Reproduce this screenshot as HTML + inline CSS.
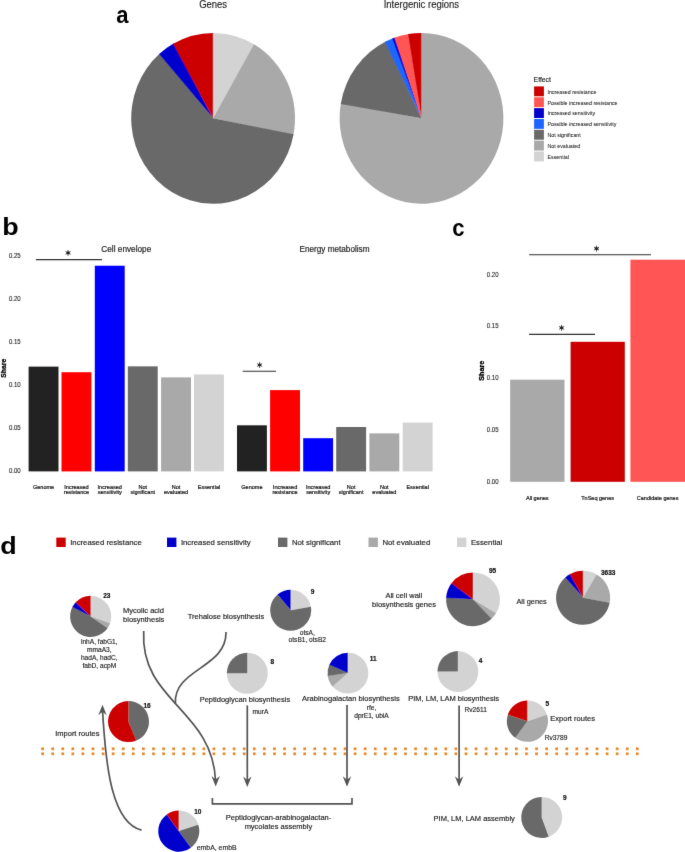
<!DOCTYPE html>
<html><head><meta charset="utf-8"><style>
html,body{margin:0;padding:0;background:#fff;}
body{width:685px;height:852px;overflow:hidden;}
svg{display:block;font-family:"Liberation Sans",sans-serif;}
</style></head><body>
<svg width="685" height="852" viewBox="0 0 685 852">
<defs><filter id="soft" x="0" y="0" width="685" height="852" filterUnits="userSpaceOnUse"><feConvolveMatrix order="3" kernelMatrix="0.00524 0.06192 0.00524 0.06192 0.73137 0.06192 0.00524 0.06192 0.00524" divisor="1" edgeMode="duplicate" preserveAlpha="false"/></filter></defs>
<rect width="685" height="852" fill="#fff"/>
<g filter="url(#soft)">
<text transform="translate(116.2,22.6) scale(0.92,1)" font-size="24" font-weight="bold">a</text>
<text transform="translate(213.1,7.75) scale(1,1.1)" font-size="9.5" text-anchor="middle" fill="#1a1a1a" stroke="#1a1a1a" stroke-width="0.12">Genes</text>
<text transform="translate(421.4,7.65) scale(1,1.1)" font-size="9.5" text-anchor="middle" fill="#1a1a1a" stroke="#1a1a1a" stroke-width="0.12">Intergenic regions</text>
<path d="M213.10,118.30L213.10,32.90A81.9,85.4 0 0 1 254.79,44.79Z" fill="#D3D3D3"/>
<path d="M213.10,118.30L254.05,44.34A81.9,85.4 0 0 1 293.41,135.03Z" fill="#A9A9A9"/>
<path d="M213.10,118.30L293.58,134.16A81.9,85.4 0 1 1 159.80,53.46Z" fill="#696969"/>
<path d="M213.10,118.30L159.15,54.04A81.9,85.4 0 0 1 173.90,43.32Z" fill="#0000CC"/>
<path d="M213.10,118.30L173.14,43.75A81.9,85.4 0 0 1 213.10,32.90Z" fill="#CC0000"/>
<path d="M421.50,118.30L421.50,32.90A81.9,85.4 0 1 1 340.92,103.03Z" fill="#A9A9A9"/>
<path d="M421.50,118.30L340.77,103.91A81.9,85.4 0 0 1 385.73,41.48Z" fill="#696969"/>
<path d="M421.50,118.30L384.96,41.87A81.9,85.4 0 0 1 393.09,38.20Z" fill="#1F66FF"/>
<path d="M421.50,118.30L392.28,38.52A81.9,85.4 0 0 1 395.24,37.41Z" fill="#0000CC"/>
<path d="M421.50,118.30L394.43,37.70A81.9,85.4 0 0 1 408.97,33.91Z" fill="#FF5555"/>
<path d="M421.50,118.30L408.12,34.05A81.9,85.4 0 0 1 421.50,32.90Z" fill="#CC0000"/>
<text x="533.6" y="81.6" font-size="6.8" text-anchor="start" font-weight="normal" fill="#1a1a1a" stroke="#1a1a1a" stroke-width="0.136" >Effect</text>
<rect x="534.1" y="86.40" width="9.8" height="9.9" fill="#CC0000"/>
<text transform="translate(547.5,93.75) scale(1,1.15)" font-size="5.3" fill="#1a1a1a" stroke="#1a1a1a" stroke-width="0.05">Increased resistance</text>
<rect x="534.1" y="97.25" width="9.8" height="9.9" fill="#FF5555"/>
<text transform="translate(547.5,104.60) scale(1,1.15)" font-size="5.3" fill="#1a1a1a" stroke="#1a1a1a" stroke-width="0.05">Possible increased resistance</text>
<rect x="534.1" y="108.10" width="9.8" height="9.9" fill="#0000CC"/>
<text transform="translate(547.5,115.45) scale(1,1.15)" font-size="5.3" fill="#1a1a1a" stroke="#1a1a1a" stroke-width="0.05">Increased sensitivity</text>
<rect x="534.1" y="118.95" width="9.8" height="9.9" fill="#1F66FF"/>
<text transform="translate(547.5,126.30) scale(1,1.15)" font-size="5.3" fill="#1a1a1a" stroke="#1a1a1a" stroke-width="0.05">Possible increased sensitivity</text>
<rect x="534.1" y="129.80" width="9.8" height="9.9" fill="#696969"/>
<text transform="translate(547.5,137.15) scale(1,1.15)" font-size="5.3" fill="#1a1a1a" stroke="#1a1a1a" stroke-width="0.05">Not significant</text>
<rect x="534.1" y="140.65" width="9.8" height="9.9" fill="#A9A9A9"/>
<text transform="translate(547.5,148.00) scale(1,1.15)" font-size="5.3" fill="#1a1a1a" stroke="#1a1a1a" stroke-width="0.05">Not evaluated</text>
<rect x="534.1" y="151.50" width="9.8" height="9.9" fill="#D3D3D3"/>
<text transform="translate(547.5,158.85) scale(1,1.15)" font-size="5.3" fill="#1a1a1a" stroke="#1a1a1a" stroke-width="0.05">Essential</text>
<text transform="translate(2.3,234.5) scale(1.12,1)" font-size="24" font-weight="bold">b</text>
<text transform="translate(20.60,473.42) scale(0.87,1)" font-size="6.9" text-anchor="end" fill="#222" stroke="#222" stroke-width="0.1">0.00</text>
<text transform="translate(20.60,430.30) scale(0.87,1)" font-size="6.9" text-anchor="end" fill="#222" stroke="#222" stroke-width="0.1">0.05</text>
<text transform="translate(20.60,387.18) scale(0.87,1)" font-size="6.9" text-anchor="end" fill="#222" stroke="#222" stroke-width="0.1">0.10</text>
<text transform="translate(20.60,344.06) scale(0.87,1)" font-size="6.9" text-anchor="end" fill="#222" stroke="#222" stroke-width="0.1">0.15</text>
<text transform="translate(20.60,300.94) scale(0.87,1)" font-size="6.9" text-anchor="end" fill="#222" stroke="#222" stroke-width="0.1">0.20</text>
<text transform="translate(20.60,257.82) scale(0.87,1)" font-size="6.9" text-anchor="end" fill="#222" stroke="#222" stroke-width="0.1">0.25</text>
<text transform="translate(5.9,368.2) rotate(-90) scale(0.93,1)" font-size="7.4" font-weight="bold" text-anchor="middle" fill="#000" stroke="#000" stroke-width="0.3">Share</text>
<text x="101.3" y="252.0" font-size="8.25" text-anchor="start" font-weight="normal" fill="#1a1a1a" stroke="#1a1a1a" stroke-width="0.165" >Cell envelope</text>
<text x="334.5" y="252.2" font-size="8.2" text-anchor="middle" font-weight="normal" fill="#1a1a1a" stroke="#1a1a1a" stroke-width="0.164" >Energy metabolism</text>
<rect x="28.6" y="366.61839999999995" width="29.9" height="104.78" fill="#242424"/>
<rect x="61.5" y="372.224" width="29.9" height="99.18" fill="#FF0000"/>
<rect x="94.8" y="265.7176" width="29.9" height="205.68" fill="#0000FF"/>
<rect x="127.8" y="366.35967999999997" width="29.9" height="105.04" fill="#696969"/>
<rect x="161.1" y="377.3984" width="29.9" height="94.00" fill="#A9A9A9"/>
<rect x="194.0" y="374.46623999999997" width="29.9" height="96.93" fill="#D3D3D3"/>
<rect x="237.0" y="425.3" width="29.9" height="46.10" fill="#242424"/>
<rect x="270.1" y="390.1" width="29.9" height="81.30" fill="#FF0000"/>
<rect x="303.2" y="438.2" width="29.9" height="33.20" fill="#0000FF"/>
<rect x="336.2" y="427.0" width="29.9" height="44.40" fill="#696969"/>
<rect x="369.4" y="433.4" width="29.9" height="38.00" fill="#A9A9A9"/>
<rect x="402.7" y="422.6" width="29.9" height="48.80" fill="#D3D3D3"/>
<text x="43.55" y="488.60" font-size="5.55" text-anchor="middle" font-weight="normal" fill="#111" stroke="#111" stroke-width="0.2" >Genome</text>
<text x="76.45" y="488.60" font-size="5.55" text-anchor="middle" font-weight="normal" fill="#111" stroke="#111" stroke-width="0.2" >Increased</text>
<text x="76.45" y="494.00" font-size="5.55" text-anchor="middle" font-weight="normal" fill="#111" stroke="#111" stroke-width="0.2" >resistance</text>
<text x="109.75" y="488.60" font-size="5.55" text-anchor="middle" font-weight="normal" fill="#111" stroke="#111" stroke-width="0.2" >Increased</text>
<text x="109.75" y="494.00" font-size="5.55" text-anchor="middle" font-weight="normal" fill="#111" stroke="#111" stroke-width="0.2" >sensitivity</text>
<text x="142.75" y="488.60" font-size="5.55" text-anchor="middle" font-weight="normal" fill="#111" stroke="#111" stroke-width="0.2" >Not</text>
<text x="142.75" y="494.00" font-size="5.55" text-anchor="middle" font-weight="normal" fill="#111" stroke="#111" stroke-width="0.2" >significant</text>
<text x="176.05" y="488.60" font-size="5.55" text-anchor="middle" font-weight="normal" fill="#111" stroke="#111" stroke-width="0.2" >Not</text>
<text x="176.05" y="494.00" font-size="5.55" text-anchor="middle" font-weight="normal" fill="#111" stroke="#111" stroke-width="0.2" >evaluated</text>
<text x="208.95" y="488.60" font-size="5.55" text-anchor="middle" font-weight="normal" fill="#111" stroke="#111" stroke-width="0.2" >Essential</text>
<text x="251.95" y="488.60" font-size="5.55" text-anchor="middle" font-weight="normal" fill="#111" stroke="#111" stroke-width="0.2" >Genome</text>
<text x="285.05" y="488.60" font-size="5.55" text-anchor="middle" font-weight="normal" fill="#111" stroke="#111" stroke-width="0.2" >Increased</text>
<text x="285.05" y="494.00" font-size="5.55" text-anchor="middle" font-weight="normal" fill="#111" stroke="#111" stroke-width="0.2" >resistance</text>
<text x="318.15" y="488.60" font-size="5.55" text-anchor="middle" font-weight="normal" fill="#111" stroke="#111" stroke-width="0.2" >Increased</text>
<text x="318.15" y="494.00" font-size="5.55" text-anchor="middle" font-weight="normal" fill="#111" stroke="#111" stroke-width="0.2" >sensitivity</text>
<text x="351.15" y="488.60" font-size="5.55" text-anchor="middle" font-weight="normal" fill="#111" stroke="#111" stroke-width="0.2" >Not</text>
<text x="351.15" y="494.00" font-size="5.55" text-anchor="middle" font-weight="normal" fill="#111" stroke="#111" stroke-width="0.2" >significant</text>
<text x="384.35" y="488.60" font-size="5.55" text-anchor="middle" font-weight="normal" fill="#111" stroke="#111" stroke-width="0.2" >Not</text>
<text x="384.35" y="494.00" font-size="5.55" text-anchor="middle" font-weight="normal" fill="#111" stroke="#111" stroke-width="0.2" >evaluated</text>
<text x="417.65" y="488.60" font-size="5.55" text-anchor="middle" font-weight="normal" fill="#111" stroke="#111" stroke-width="0.2" >Essential</text>
<line x1="35.9" y1="259.6" x2="102" y2="259.6" stroke="#333" stroke-width="1.1"/>
<path d="M68.06,250.00L68.06,255.80M65.55,251.45L70.57,254.35M70.57,251.45L65.55,254.35" stroke="#222" stroke-width="0.8" fill="none"/>
<ellipse cx="68.06" cy="252.9" rx="1.75" ry="1.3" fill="#222"/>
<line x1="242.7" y1="371.2" x2="276.0" y2="371.2" stroke="#333" stroke-width="1.1"/>
<path d="M259.60,362.10L259.60,367.90M257.09,363.55L262.11,366.45M262.11,363.55L257.09,366.45" stroke="#222" stroke-width="0.8" fill="none"/>
<ellipse cx="259.6" cy="365.0" rx="1.75" ry="1.3" fill="#222"/>
<text transform="translate(452.3,236) scale(0.92,1)" font-size="24" font-weight="bold">c</text>
<text transform="translate(498.50,483.82) scale(0.87,1)" font-size="6.9" text-anchor="end" fill="#222" stroke="#222" stroke-width="0.1">0.00</text>
<text transform="translate(498.50,432.02) scale(0.87,1)" font-size="6.9" text-anchor="end" fill="#222" stroke="#222" stroke-width="0.1">0.05</text>
<text transform="translate(498.50,380.22) scale(0.87,1)" font-size="6.9" text-anchor="end" fill="#222" stroke="#222" stroke-width="0.1">0.10</text>
<text transform="translate(498.50,328.42) scale(0.87,1)" font-size="6.9" text-anchor="end" fill="#222" stroke="#222" stroke-width="0.1">0.15</text>
<text transform="translate(498.50,276.62) scale(0.87,1)" font-size="6.9" text-anchor="end" fill="#222" stroke="#222" stroke-width="0.1">0.20</text>
<text transform="translate(484.2,370.7) rotate(-90) scale(0.91,1)" font-size="7.9" font-weight="bold" text-anchor="middle" fill="#000" stroke="#000" stroke-width="0.3">Share</text>
<rect x="510.2" y="379.7" width="54.3" height="102.10" fill="#A9A9A9"/>
<rect x="570.6" y="341.8" width="54.2" height="140.00" fill="#CC0000"/>
<rect x="630.4" y="259.7" width="54.6" height="222.10" fill="#FF5555"/>
<text x="537.3" y="499.9" font-size="5.5" text-anchor="middle" font-weight="normal" fill="#111" stroke="#111" stroke-width="0.2" >All genes</text>
<text x="597.6" y="499.9" font-size="5.5" text-anchor="middle" font-weight="normal" fill="#111" stroke="#111" stroke-width="0.2" >TnSeq genes</text>
<text x="657.6" y="499.9" font-size="5.5" text-anchor="middle" font-weight="normal" fill="#111" stroke="#111" stroke-width="0.2" >Candidate genes</text>
<line x1="529.1" y1="254.8" x2="651" y2="254.8" stroke="#333" stroke-width="1.1"/>
<path d="M596.50,245.70L596.50,251.50M593.99,247.15L599.01,250.05M599.01,247.15L593.99,250.05" stroke="#222" stroke-width="0.8" fill="none"/>
<ellipse cx="596.5" cy="248.6" rx="1.75" ry="1.3" fill="#222"/>
<line x1="529.1" y1="334.4" x2="595" y2="334.4" stroke="#333" stroke-width="1.1"/>
<path d="M561.60,325.00L561.60,330.80M559.09,326.45L564.11,329.35M564.11,326.45L559.09,329.35" stroke="#222" stroke-width="0.8" fill="none"/>
<ellipse cx="561.6" cy="327.9" rx="1.75" ry="1.3" fill="#222"/>
<text transform="translate(0.2,553.6) scale(1.12,1)" font-size="24" font-weight="bold">d</text>
<rect x="56.3" y="537.6" width="9.4" height="9.4" fill="#CC0000"/>
<text x="70.2" y="545.3" font-size="7.75" text-anchor="start" font-weight="normal" fill="#1a1a1a" stroke="#1a1a1a" stroke-width="0.155" >Increased resistance</text>
<rect x="167.0" y="537.6" width="9.4" height="9.4" fill="#0000CC"/>
<text x="180.9" y="545.3" font-size="7.75" text-anchor="start" font-weight="normal" fill="#1a1a1a" stroke="#1a1a1a" stroke-width="0.155" >Increased sensitivity</text>
<rect x="278.0" y="537.6" width="9.4" height="9.4" fill="#696969"/>
<text x="291.9" y="545.3" font-size="7.75" text-anchor="start" font-weight="normal" fill="#1a1a1a" stroke="#1a1a1a" stroke-width="0.155" >Not significant</text>
<rect x="368.5" y="537.6" width="9.4" height="9.4" fill="#A9A9A9"/>
<text x="382.4" y="545.3" font-size="7.75" text-anchor="start" font-weight="normal" fill="#1a1a1a" stroke="#1a1a1a" stroke-width="0.155" >Not evaluated</text>
<rect x="457.0" y="537.6" width="9.4" height="9.4" fill="#D3D3D3"/>
<text x="470.9" y="545.3" font-size="7.75" text-anchor="start" font-weight="normal" fill="#1a1a1a" stroke="#1a1a1a" stroke-width="0.155" >Essential</text>
<rect x="41.25" y="747.45" width="2.7" height="2.7" fill="#E6892D"/>
<rect x="41.25" y="752.45" width="2.7" height="2.7" fill="#E6892D"/>
<rect x="51.33" y="747.45" width="2.7" height="2.7" fill="#E6892D"/>
<rect x="51.33" y="752.45" width="2.7" height="2.7" fill="#E6892D"/>
<rect x="61.41" y="747.45" width="2.7" height="2.7" fill="#E6892D"/>
<rect x="61.41" y="752.45" width="2.7" height="2.7" fill="#E6892D"/>
<rect x="71.49" y="747.45" width="2.7" height="2.7" fill="#E6892D"/>
<rect x="71.49" y="752.45" width="2.7" height="2.7" fill="#E6892D"/>
<rect x="81.57" y="747.45" width="2.7" height="2.7" fill="#E6892D"/>
<rect x="81.57" y="752.45" width="2.7" height="2.7" fill="#E6892D"/>
<rect x="91.65" y="747.45" width="2.7" height="2.7" fill="#E6892D"/>
<rect x="91.65" y="752.45" width="2.7" height="2.7" fill="#E6892D"/>
<rect x="101.73" y="747.45" width="2.7" height="2.7" fill="#E6892D"/>
<rect x="101.73" y="752.45" width="2.7" height="2.7" fill="#E6892D"/>
<rect x="111.81" y="747.45" width="2.7" height="2.7" fill="#E6892D"/>
<rect x="111.81" y="752.45" width="2.7" height="2.7" fill="#E6892D"/>
<rect x="121.89" y="747.45" width="2.7" height="2.7" fill="#E6892D"/>
<rect x="121.89" y="752.45" width="2.7" height="2.7" fill="#E6892D"/>
<rect x="131.97" y="747.45" width="2.7" height="2.7" fill="#E6892D"/>
<rect x="131.97" y="752.45" width="2.7" height="2.7" fill="#E6892D"/>
<rect x="142.05" y="747.45" width="2.7" height="2.7" fill="#E6892D"/>
<rect x="142.05" y="752.45" width="2.7" height="2.7" fill="#E6892D"/>
<rect x="152.13" y="747.45" width="2.7" height="2.7" fill="#E6892D"/>
<rect x="152.13" y="752.45" width="2.7" height="2.7" fill="#E6892D"/>
<rect x="162.21" y="747.45" width="2.7" height="2.7" fill="#E6892D"/>
<rect x="162.21" y="752.45" width="2.7" height="2.7" fill="#E6892D"/>
<rect x="172.29" y="747.45" width="2.7" height="2.7" fill="#E6892D"/>
<rect x="172.29" y="752.45" width="2.7" height="2.7" fill="#E6892D"/>
<rect x="182.37" y="747.45" width="2.7" height="2.7" fill="#E6892D"/>
<rect x="182.37" y="752.45" width="2.7" height="2.7" fill="#E6892D"/>
<rect x="192.45" y="747.45" width="2.7" height="2.7" fill="#E6892D"/>
<rect x="192.45" y="752.45" width="2.7" height="2.7" fill="#E6892D"/>
<rect x="202.53" y="747.45" width="2.7" height="2.7" fill="#E6892D"/>
<rect x="202.53" y="752.45" width="2.7" height="2.7" fill="#E6892D"/>
<rect x="212.61" y="747.45" width="2.7" height="2.7" fill="#E6892D"/>
<rect x="212.61" y="752.45" width="2.7" height="2.7" fill="#E6892D"/>
<rect x="222.69" y="747.45" width="2.7" height="2.7" fill="#E6892D"/>
<rect x="222.69" y="752.45" width="2.7" height="2.7" fill="#E6892D"/>
<rect x="232.77" y="747.45" width="2.7" height="2.7" fill="#E6892D"/>
<rect x="232.77" y="752.45" width="2.7" height="2.7" fill="#E6892D"/>
<rect x="242.85" y="747.45" width="2.7" height="2.7" fill="#E6892D"/>
<rect x="242.85" y="752.45" width="2.7" height="2.7" fill="#E6892D"/>
<rect x="252.93" y="747.45" width="2.7" height="2.7" fill="#E6892D"/>
<rect x="252.93" y="752.45" width="2.7" height="2.7" fill="#E6892D"/>
<rect x="263.01" y="747.45" width="2.7" height="2.7" fill="#E6892D"/>
<rect x="263.01" y="752.45" width="2.7" height="2.7" fill="#E6892D"/>
<rect x="273.09" y="747.45" width="2.7" height="2.7" fill="#E6892D"/>
<rect x="273.09" y="752.45" width="2.7" height="2.7" fill="#E6892D"/>
<rect x="283.17" y="747.45" width="2.7" height="2.7" fill="#E6892D"/>
<rect x="283.17" y="752.45" width="2.7" height="2.7" fill="#E6892D"/>
<rect x="293.25" y="747.45" width="2.7" height="2.7" fill="#E6892D"/>
<rect x="293.25" y="752.45" width="2.7" height="2.7" fill="#E6892D"/>
<rect x="303.33" y="747.45" width="2.7" height="2.7" fill="#E6892D"/>
<rect x="303.33" y="752.45" width="2.7" height="2.7" fill="#E6892D"/>
<rect x="313.41" y="747.45" width="2.7" height="2.7" fill="#E6892D"/>
<rect x="313.41" y="752.45" width="2.7" height="2.7" fill="#E6892D"/>
<rect x="323.49" y="747.45" width="2.7" height="2.7" fill="#E6892D"/>
<rect x="323.49" y="752.45" width="2.7" height="2.7" fill="#E6892D"/>
<rect x="333.57" y="747.45" width="2.7" height="2.7" fill="#E6892D"/>
<rect x="333.57" y="752.45" width="2.7" height="2.7" fill="#E6892D"/>
<rect x="343.65" y="747.45" width="2.7" height="2.7" fill="#E6892D"/>
<rect x="343.65" y="752.45" width="2.7" height="2.7" fill="#E6892D"/>
<rect x="353.73" y="747.45" width="2.7" height="2.7" fill="#E6892D"/>
<rect x="353.73" y="752.45" width="2.7" height="2.7" fill="#E6892D"/>
<rect x="363.81" y="747.45" width="2.7" height="2.7" fill="#E6892D"/>
<rect x="363.81" y="752.45" width="2.7" height="2.7" fill="#E6892D"/>
<rect x="373.89" y="747.45" width="2.7" height="2.7" fill="#E6892D"/>
<rect x="373.89" y="752.45" width="2.7" height="2.7" fill="#E6892D"/>
<rect x="383.97" y="747.45" width="2.7" height="2.7" fill="#E6892D"/>
<rect x="383.97" y="752.45" width="2.7" height="2.7" fill="#E6892D"/>
<rect x="394.05" y="747.45" width="2.7" height="2.7" fill="#E6892D"/>
<rect x="394.05" y="752.45" width="2.7" height="2.7" fill="#E6892D"/>
<rect x="404.13" y="747.45" width="2.7" height="2.7" fill="#E6892D"/>
<rect x="404.13" y="752.45" width="2.7" height="2.7" fill="#E6892D"/>
<rect x="414.21" y="747.45" width="2.7" height="2.7" fill="#E6892D"/>
<rect x="414.21" y="752.45" width="2.7" height="2.7" fill="#E6892D"/>
<rect x="424.29" y="747.45" width="2.7" height="2.7" fill="#E6892D"/>
<rect x="424.29" y="752.45" width="2.7" height="2.7" fill="#E6892D"/>
<rect x="434.37" y="747.45" width="2.7" height="2.7" fill="#E6892D"/>
<rect x="434.37" y="752.45" width="2.7" height="2.7" fill="#E6892D"/>
<rect x="444.45" y="747.45" width="2.7" height="2.7" fill="#E6892D"/>
<rect x="444.45" y="752.45" width="2.7" height="2.7" fill="#E6892D"/>
<rect x="454.53" y="747.45" width="2.7" height="2.7" fill="#E6892D"/>
<rect x="454.53" y="752.45" width="2.7" height="2.7" fill="#E6892D"/>
<rect x="464.61" y="747.45" width="2.7" height="2.7" fill="#E6892D"/>
<rect x="464.61" y="752.45" width="2.7" height="2.7" fill="#E6892D"/>
<rect x="474.69" y="747.45" width="2.7" height="2.7" fill="#E6892D"/>
<rect x="474.69" y="752.45" width="2.7" height="2.7" fill="#E6892D"/>
<rect x="484.77" y="747.45" width="2.7" height="2.7" fill="#E6892D"/>
<rect x="484.77" y="752.45" width="2.7" height="2.7" fill="#E6892D"/>
<rect x="494.85" y="747.45" width="2.7" height="2.7" fill="#E6892D"/>
<rect x="494.85" y="752.45" width="2.7" height="2.7" fill="#E6892D"/>
<rect x="504.93" y="747.45" width="2.7" height="2.7" fill="#E6892D"/>
<rect x="504.93" y="752.45" width="2.7" height="2.7" fill="#E6892D"/>
<rect x="515.01" y="747.45" width="2.7" height="2.7" fill="#E6892D"/>
<rect x="515.01" y="752.45" width="2.7" height="2.7" fill="#E6892D"/>
<rect x="525.09" y="747.45" width="2.7" height="2.7" fill="#E6892D"/>
<rect x="525.09" y="752.45" width="2.7" height="2.7" fill="#E6892D"/>
<rect x="535.17" y="747.45" width="2.7" height="2.7" fill="#E6892D"/>
<rect x="535.17" y="752.45" width="2.7" height="2.7" fill="#E6892D"/>
<rect x="545.25" y="747.45" width="2.7" height="2.7" fill="#E6892D"/>
<rect x="545.25" y="752.45" width="2.7" height="2.7" fill="#E6892D"/>
<rect x="555.33" y="747.45" width="2.7" height="2.7" fill="#E6892D"/>
<rect x="555.33" y="752.45" width="2.7" height="2.7" fill="#E6892D"/>
<rect x="565.41" y="747.45" width="2.7" height="2.7" fill="#E6892D"/>
<rect x="565.41" y="752.45" width="2.7" height="2.7" fill="#E6892D"/>
<rect x="575.49" y="747.45" width="2.7" height="2.7" fill="#E6892D"/>
<rect x="575.49" y="752.45" width="2.7" height="2.7" fill="#E6892D"/>
<rect x="585.57" y="747.45" width="2.7" height="2.7" fill="#E6892D"/>
<rect x="585.57" y="752.45" width="2.7" height="2.7" fill="#E6892D"/>
<rect x="595.65" y="747.45" width="2.7" height="2.7" fill="#E6892D"/>
<rect x="595.65" y="752.45" width="2.7" height="2.7" fill="#E6892D"/>
<rect x="605.73" y="747.45" width="2.7" height="2.7" fill="#E6892D"/>
<rect x="605.73" y="752.45" width="2.7" height="2.7" fill="#E6892D"/>
<rect x="615.81" y="747.45" width="2.7" height="2.7" fill="#E6892D"/>
<rect x="615.81" y="752.45" width="2.7" height="2.7" fill="#E6892D"/>
<rect x="625.89" y="747.45" width="2.7" height="2.7" fill="#E6892D"/>
<rect x="625.89" y="752.45" width="2.7" height="2.7" fill="#E6892D"/>
<rect x="635.97" y="747.45" width="2.7" height="2.7" fill="#E6892D"/>
<rect x="635.97" y="752.45" width="2.7" height="2.7" fill="#E6892D"/>
<g fill="none" stroke="#555555" stroke-width="1.7">
<path d="M143.7,631 C139.8,701.5 212.5,708.9 215.6,781"/>
<path d="M226,632 C226.8,668.2 173.3,668.7 175.4,703.5"/>
<path d="M247.3,705.4 V781"/>
<path d="M347,705 V781"/>
<path d="M459.1,705.4 V781"/>
<path d="M141.6,830.1 C110.4,822.7 105.4,760 102.5,710"/>
<path d="M212.4,797.9 V803.9 H352 V797.9"/>
</g>
<path d="M215.70,786.60L211.50,776.10L215.70,779.60L219.90,776.10Z" fill="#555555"/>
<path d="M247.30,787.00L243.10,776.50L247.30,780.00L251.50,776.50Z" fill="#555555"/>
<path d="M347.00,786.70L342.80,776.20L347.00,779.70L351.20,776.20Z" fill="#555555"/>
<path d="M459.10,786.70L454.90,776.20L459.10,779.70L463.30,776.20Z" fill="#555555"/>
<path d="M102.50,704.70L106.70,715.20L102.50,711.70L98.30,715.20Z" fill="#555555"/>
<path d="M90.70,616.40L90.70,595.80A20.6,20.6 0 0 1 110.03,623.51Z" fill="#D3D3D3"/>
<path d="M90.70,616.40L110.11,623.31A20.6,20.6 0 0 1 107.41,628.45Z" fill="#A9A9A9"/>
<path d="M90.70,616.40L107.53,628.27A20.6,20.6 0 0 1 72.51,606.73Z" fill="#696969"/>
<path d="M90.70,616.40L72.41,606.92A20.6,20.6 0 0 1 75.78,602.19Z" fill="#0000CC"/>
<path d="M90.70,616.40L75.63,602.35A20.6,20.6 0 0 1 90.70,595.80Z" fill="#CC0000"/>
<path d="M290.70,610.30L290.70,589.80A20.5,20.5 0 0 1 310.92,606.95Z" fill="#D3D3D3"/>
<path d="M290.70,610.30L310.89,606.74A20.5,20.5 0 1 1 277.69,594.46Z" fill="#696969"/>
<path d="M290.70,610.30L277.52,594.60A20.5,20.5 0 0 1 290.70,589.80Z" fill="#0000CC"/>
<path d="M247.30,673.30L247.30,652.80A20.5,20.5 0 1 1 226.80,673.09Z" fill="#D3D3D3"/>
<path d="M247.30,673.30L226.80,673.30A20.5,20.5 0 0 1 247.30,652.80Z" fill="#696969"/>
<path d="M347.90,673.10L347.90,652.70A20.4,20.4 0 1 1 332.34,686.29Z" fill="#D3D3D3"/>
<path d="M347.90,673.10L332.48,686.46A20.4,20.4 0 0 1 327.68,675.80Z" fill="#A9A9A9"/>
<path d="M347.90,673.10L327.71,676.01A20.4,20.4 0 0 1 329.43,664.45Z" fill="#696969"/>
<path d="M347.90,673.10L329.34,664.64A20.4,20.4 0 0 1 347.90,652.70Z" fill="#0000CC"/>
<path d="M473.00,599.30L473.00,572.40A26.9,26.9 0 0 1 495.84,613.51Z" fill="#D3D3D3"/>
<path d="M473.00,599.30L495.98,613.28A26.9,26.9 0 0 1 491.35,618.97Z" fill="#A9A9A9"/>
<path d="M473.00,599.30L491.55,618.78A26.9,26.9 0 0 1 446.15,597.70Z" fill="#696969"/>
<path d="M473.00,599.30L446.13,597.99A26.9,26.9 0 0 1 451.66,582.92Z" fill="#0000CC"/>
<path d="M473.00,599.30L451.49,583.15A26.9,26.9 0 0 1 473.00,572.40Z" fill="#CC0000"/>
<path d="M583.10,597.80L583.10,570.80A27.0,27.0 0 0 1 596.84,574.56Z" fill="#D3D3D3"/>
<path d="M583.10,597.80L596.60,574.42A27.0,27.0 0 0 1 609.58,603.09Z" fill="#A9A9A9"/>
<path d="M583.10,597.80L609.63,602.81A27.0,27.0 0 1 1 565.53,577.30Z" fill="#696969"/>
<path d="M583.10,597.80L565.32,577.48A27.0,27.0 0 0 1 570.18,574.09Z" fill="#0000CC"/>
<path d="M583.10,597.80L569.93,574.23A27.0,27.0 0 0 1 583.10,570.80Z" fill="#CC0000"/>
<path d="M457.90,671.50L457.90,651.10A20.4,20.4 0 1 1 437.50,671.29Z" fill="#D3D3D3"/>
<path d="M457.90,671.50L437.50,671.50A20.4,20.4 0 0 1 457.90,651.10Z" fill="#696969"/>
<path d="M128.50,721.60L128.50,701.10A20.5,20.5 0 0 1 136.15,740.62Z" fill="#696969"/>
<path d="M128.50,721.60L136.35,740.54A20.5,20.5 0 1 1 128.50,701.10Z" fill="#CC0000"/>
<path d="M527.40,721.20L527.40,700.60A20.6,20.6 0 0 1 547.06,715.04Z" fill="#D3D3D3"/>
<path d="M527.40,721.20L546.99,714.83A20.6,20.6 0 0 1 515.12,737.74Z" fill="#A9A9A9"/>
<path d="M527.40,721.20L515.29,737.87A20.6,20.6 0 0 1 507.88,714.63Z" fill="#696969"/>
<path d="M527.40,721.20L507.81,714.83A20.6,20.6 0 0 1 527.40,700.60Z" fill="#CC0000"/>
<path d="M178.80,831.10L178.80,810.60A20.5,20.5 0 0 1 198.36,824.97Z" fill="#D3D3D3"/>
<path d="M178.80,831.10L198.30,824.77A20.5,20.5 0 0 1 190.68,847.81Z" fill="#696969"/>
<path d="M178.80,831.10L190.85,847.68A20.5,20.5 0 1 1 166.92,814.39Z" fill="#0000CC"/>
<path d="M178.80,831.10L166.75,814.52A20.5,20.5 0 0 1 178.80,810.60Z" fill="#CC0000"/>
<path d="M541.70,817.40L541.70,796.90A20.5,20.5 0 0 1 548.51,836.74Z" fill="#D3D3D3"/>
<path d="M541.70,817.40L548.71,836.66A20.5,20.5 0 1 1 541.70,796.90Z" fill="#696969"/>
<text x="103.2" y="597.9" font-size="6.5" text-anchor="start" font-weight="bold" fill="#111" stroke="#111" stroke-width="0.2" >23</text>
<text x="310.8" y="593.8" font-size="6.5" text-anchor="start" font-weight="bold" fill="#111" stroke="#111" stroke-width="0.2" >9</text>
<text x="270.4" y="663.8" font-size="6.5" text-anchor="start" font-weight="bold" fill="#111" stroke="#111" stroke-width="0.2" >8</text>
<text x="369.8" y="660.8" font-size="6.5" text-anchor="start" font-weight="bold" fill="#111" stroke="#111" stroke-width="0.2" >11</text>
<text x="489.0" y="573.0" font-size="6.5" text-anchor="start" font-weight="bold" fill="#111" stroke="#111" stroke-width="0.2" >95</text>
<text x="601.0" y="575.0" font-size="6.5" text-anchor="start" font-weight="bold" fill="#111" stroke="#111" stroke-width="0.2" >3633</text>
<text x="478.8" y="662.7" font-size="6.5" text-anchor="start" font-weight="bold" fill="#111" stroke="#111" stroke-width="0.2" >4</text>
<text x="143.5" y="707.7" font-size="6.5" text-anchor="start" font-weight="bold" fill="#111" stroke="#111" stroke-width="0.2" >16</text>
<text x="545.6" y="706.0" font-size="6.5" text-anchor="start" font-weight="bold" fill="#111" stroke="#111" stroke-width="0.2" >5</text>
<text x="194.2" y="814.2" font-size="6.5" text-anchor="start" font-weight="bold" fill="#111" stroke="#111" stroke-width="0.2" >10</text>
<text x="563.0" y="800.0" font-size="6.5" text-anchor="start" font-weight="bold" fill="#111" stroke="#111" stroke-width="0.2" >9</text>
<text x="123.1" y="613.2" font-size="7.5" text-anchor="start" font-weight="normal" fill="#1a1a1a" stroke="#1a1a1a" stroke-width="0.15" >Mycolic acid</text>
<text x="123.1" y="621.8" font-size="7.5" text-anchor="start" font-weight="normal" fill="#1a1a1a" stroke="#1a1a1a" stroke-width="0.15" >biosynthesis</text>
<text x="226.0" y="619.0" font-size="7.5" text-anchor="middle" font-weight="normal" fill="#1a1a1a" stroke="#1a1a1a" stroke-width="0.15" >Trehalose biosynthesis</text>
<text x="403.8" y="598.4" font-size="7.5" text-anchor="middle" font-weight="normal" fill="#1a1a1a" stroke="#1a1a1a" stroke-width="0.15" >All cell wall</text>
<text x="404.0" y="607.4" font-size="7.5" text-anchor="middle" font-weight="normal" fill="#1a1a1a" stroke="#1a1a1a" stroke-width="0.15" >biosynthesis genes</text>
<text x="531.6" y="604.3" font-size="7.4" text-anchor="middle" font-weight="normal" fill="#1a1a1a" stroke="#1a1a1a" stroke-width="0.148" >All genes</text>
<text x="244.9" y="701.6" font-size="7.5" text-anchor="middle" font-weight="normal" fill="#1a1a1a" stroke="#1a1a1a" stroke-width="0.15" >Peptidoglycan biosynthesis</text>
<text x="350.9" y="701.3" font-size="7.5" text-anchor="middle" font-weight="normal" fill="#1a1a1a" stroke="#1a1a1a" stroke-width="0.15" >Arabinogalactan biosynthesis</text>
<text x="453.7" y="700.6" font-size="7.5" text-anchor="middle" font-weight="normal" fill="#1a1a1a" stroke="#1a1a1a" stroke-width="0.15" >PIM, LM, LAM biosynthesis</text>
<text x="77.3" y="736.3" font-size="7.5" text-anchor="middle" font-weight="normal" fill="#1a1a1a" stroke="#1a1a1a" stroke-width="0.15" >Import routes</text>
<text x="572.6" y="720.7" font-size="7.5" text-anchor="middle" font-weight="normal" fill="#1a1a1a" stroke="#1a1a1a" stroke-width="0.15" >Export routes</text>
<text x="278.5" y="820.0" font-size="7.5" text-anchor="middle" font-weight="normal" fill="#1a1a1a" stroke="#1a1a1a" stroke-width="0.15" >Peptidoglycan-arabinogalactan-</text>
<text x="278.4" y="829.0" font-size="7.5" text-anchor="middle" font-weight="normal" fill="#1a1a1a" stroke="#1a1a1a" stroke-width="0.15" >mycolates assembly</text>
<text x="474.2" y="821.4" font-size="7.5" text-anchor="middle" font-weight="normal" fill="#1a1a1a" stroke="#1a1a1a" stroke-width="0.15" >PIM, LM, LAM assembly</text>
<text x="99.3" y="643.7" font-size="6.6" text-anchor="middle" font-weight="normal" fill="#1a1a1a" stroke="#1a1a1a" stroke-width="0.132" >inhA, fabG1,</text>
<text x="99.3" y="651.8000000000001" font-size="6.6" text-anchor="middle" font-weight="normal" fill="#1a1a1a" stroke="#1a1a1a" stroke-width="0.132" >mmaA3,</text>
<text x="99.3" y="659.9000000000001" font-size="6.6" text-anchor="middle" font-weight="normal" fill="#1a1a1a" stroke="#1a1a1a" stroke-width="0.132" >hadA, hadC,</text>
<text x="99.3" y="668.0" font-size="6.6" text-anchor="middle" font-weight="normal" fill="#1a1a1a" stroke="#1a1a1a" stroke-width="0.132" >fabD, acpM</text>
<text x="307.3" y="634.6" font-size="6.6" text-anchor="middle" font-weight="normal" fill="#1a1a1a" stroke="#1a1a1a" stroke-width="0.132" >otsA,</text>
<text x="307.3" y="642.2" font-size="6.6" text-anchor="middle" font-weight="normal" fill="#1a1a1a" stroke="#1a1a1a" stroke-width="0.132" >otsB1, otsB2</text>
<text x="260.5" y="713.6" font-size="6.6" text-anchor="middle" font-weight="normal" fill="#1a1a1a" stroke="#1a1a1a" stroke-width="0.132" >murA</text>
<text x="371.5" y="709.6" font-size="6.6" text-anchor="middle" font-weight="normal" fill="#1a1a1a" stroke="#1a1a1a" stroke-width="0.132" >rfe,</text>
<text x="371.5" y="718.4" font-size="6.6" text-anchor="middle" font-weight="normal" fill="#1a1a1a" stroke="#1a1a1a" stroke-width="0.132" >dprE1, ubiA</text>
<text x="475.7" y="712.4" font-size="6.6" text-anchor="middle" font-weight="normal" fill="#1a1a1a" stroke="#1a1a1a" stroke-width="0.132" >Rv2611</text>
<text x="556.0" y="740.3" font-size="6.6" text-anchor="middle" font-weight="normal" fill="#1a1a1a" stroke="#1a1a1a" stroke-width="0.132" >Rv3789</text>
<text x="216.7" y="849.9" font-size="6.95" text-anchor="middle" font-weight="normal" fill="#1a1a1a" stroke="#1a1a1a" stroke-width="0.139" >embA, embB</text>
</g>
</svg>
</body></html>
